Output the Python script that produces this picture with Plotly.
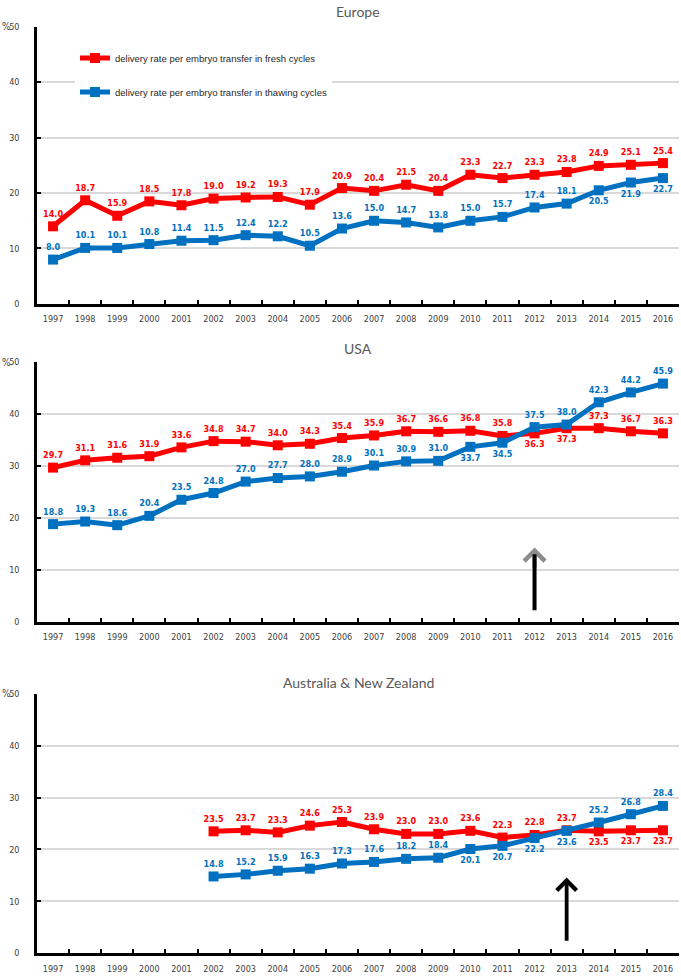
import plotly.graph_objects as go

years = [str(y) for y in range(1997, 2017)]

eu_fresh = [14.0, 18.7, 15.9, 18.5, 17.8, 19.0, 19.2, 19.3, 17.9, 20.9,
            20.4, 21.5, 20.4, 23.3, 22.7, 23.3, 23.8, 24.9, 25.1, 25.4]
eu_thaw = [8.0, 10.1, 10.1, 10.8, 11.4, 11.5, 12.4, 12.2, 10.5, 13.6,
           15.0, 14.7, 13.8, 15.0, 15.7, 17.4, 18.1, 20.5, 21.9, 22.7]

usa_fresh = [29.7, 31.1, 31.6, 31.9, 33.6, 34.8, 34.7, 34.0, 34.3, 35.4,
             35.9, 36.7, 36.6, 36.8, 35.8, 36.3, 37.3, 37.3, 36.7, 36.3]
usa_thaw = [18.8, 19.3, 18.6, 20.4, 23.5, 24.8, 27.0, 27.7, 28.0, 28.9,
            30.1, 30.9, 31.0, 33.7, 34.5, 37.5, 38.0, 42.3, 44.2, 45.9]

anz_years = [str(y) for y in range(2002, 2017)]
anz_fresh = [23.5, 23.7, 23.3, 24.6, 25.3, 23.9, 23.0, 23.0, 23.6, 22.3,
             22.8, 23.7, 23.5, 23.7, 23.7]
anz_thaw = [14.8, 15.2, 15.9, 16.3, 17.3, 17.6, 18.2, 18.4, 20.1, 20.7,
            22.2, 23.6, 25.2, 26.8, 28.4]

fresh_name = "delivery rate per embryo transfer in fresh cycles"
thaw_name = "delivery rate per embryo transfer in thawing cycles"
titles = ["Europe", "USA", "Australia & New Zealand"]

# label placement (above / below)
T, B = "top center", "bottom center"
eu_fresh_pos = [T] * 20
eu_thaw_pos = [T] * 17 + [B] * 3
usa_fresh_pos = [T] * 15 + [B] * 2 + [T] * 3
usa_thaw_pos = [T] * 13 + [B] * 2 + [T] * 5
anz_fresh_pos = [T] * 12 + [B] * 3
anz_thaw_pos = [T] * 8 + [B] * 4 + [T] * 3

RED = "#FF0000"
BLUE = "#0070C0"
FONT = "Liberation Sans Narrow, DejaVu Sans Condensed, Arial Narrow, sans-serif"
W, H = 681, 979

fig = go.Figure()


def add_series(x, y, pos, color, name, axn, show):
    xa = "x" if axn == 1 else f"x{axn}"
    ya = "y" if axn == 1 else f"y{axn}"
    fig.add_trace(go.Scatter(
        x=x, y=y, mode="lines+markers+text",
        text=[f"{v:.1f}" for v in y], textposition=pos,
        textfont=dict(family=FONT, size=9, color=color, weight="bold"),
        line=dict(color=color, width=5),
        marker=dict(symbol="square", size=10, color=color),
        name=name, legendgroup=name, showlegend=show,
        xaxis=xa, yaxis=ya, cliponaxis=False, hoverinfo="x+y"))


add_series(years, eu_fresh, eu_fresh_pos, RED, fresh_name, 1, True)
add_series(years, eu_thaw, eu_thaw_pos, BLUE, thaw_name, 1, True)
add_series(years, usa_fresh, usa_fresh_pos, RED, fresh_name, 2, False)
add_series(years, usa_thaw, usa_thaw_pos, BLUE, thaw_name, 2, False)
add_series(anz_years, anz_fresh, anz_fresh_pos, RED, fresh_name, 3, False)
add_series(anz_years, anz_thaw, anz_thaw_pos, BLUE, thaw_name, 3, False)

# panel pixel extents (top of 50, bottom at 0) and title centres
panels = [(22, 302), (361, 623), (696, 958)]
title_y = [7, 347, 684]
xdom = [37 / W, 679 / W]

layout = dict(
    width=W, height=H, margin=dict(l=0, r=0, t=0, b=0),
    paper_bgcolor="white", plot_bgcolor="white",
    showlegend=True,
    legend=dict(x=75 / W, y=1 - 39 / H, xanchor="left", yanchor="top",
                bgcolor="white",
                font=dict(family="Liberation Sans, Arial, sans-serif",
                          size=9.5, color="#262626"),
                itemwidth=30, traceorder="grouped", tracegroupgap=15,
                itemclick=False, itemdoubleclick=False),
    annotations=[], font=dict(family=FONT),
)

for i, (top, bot) in enumerate(panels):
    n = "" if i == 0 else str(i + 1)
    layout["xaxis" + n] = dict(
        type="category", categoryorder="array", categoryarray=years,
        range=[-0.5, 19.5], domain=xdom, anchor="y" + n,
        showline=True, linecolor="black", linewidth=2.5,
        ticks="inside", ticklen=4, tickwidth=2, tickcolor="black",
        tickson="boundaries", showgrid=False, zeroline=False,
        tickfont=dict(family=FONT, size=9, color="#404040"),
        ticklabelstandoff=5, fixedrange=True)
    layout["yaxis" + n] = dict(
        range=[0, 50], dtick=10, domain=[1 - bot / H, 1 - top / H],
        anchor="x" + n, showline=True, linecolor="black", linewidth=2.5,
        ticks="inside", ticklen=4, tickwidth=2, tickcolor="black",
        showgrid=True, gridcolor="#D9D9D9", gridwidth=2, zeroline=False,
        tickfont=dict(family=FONT, size=9, color="#404040"),
        ticklabelstandoff=13, fixedrange=True)
    layout["annotations"].append(dict(
        text=titles[i], xref="paper", yref="paper",
        x=(xdom[0] + xdom[1]) / 2, y=1 - title_y[i] / H,
        xanchor="center", yanchor="middle", showarrow=False,
        font=dict(family="Lato, Open Sans, sans-serif", size=14, color="#595959")))
    layout["annotations"].append(dict(
        text="%", xref="paper", yref="y" + n, x=0, y=50,
        xanchor="left", yanchor="middle", showarrow=False,
        font=dict(family=FONT, size=10, color="#404040")))

# USA arrow (gray head, black shaft) at 2012
layout["annotations"].append(dict(
    x=15, y=14.3, ax=15, ay=10, xref="x2", yref="y2", axref="x2", ayref="y2",
    text="", showarrow=True, arrowhead=4, arrowsize=1, arrowwidth=4,
    arrowcolor="#8C8C8C"))
layout["annotations"].append(dict(
    x=15, y=13.0, ax=15, ay=1.9, xref="x2", yref="y2", axref="x2", ayref="y2",
    text="", showarrow=True, arrowhead=0, arrowwidth=4, arrowcolor="black"))
# ANZ arrow at 2013
layout["annotations"].append(dict(
    x=16, y=14.6, ax=16, ay=2.1, xref="x3", yref="y3", axref="x3", ayref="y3",
    text="", showarrow=True, arrowhead=4, arrowsize=1, arrowwidth=3.8,
    arrowcolor="black"))

fig.update_layout(**layout)
fig.write_html(
    "out.html",
    config={"displayModeBar": False},
    post_script="document.body.style.margin='0';"
                "document.body.style.overflow='hidden';")
